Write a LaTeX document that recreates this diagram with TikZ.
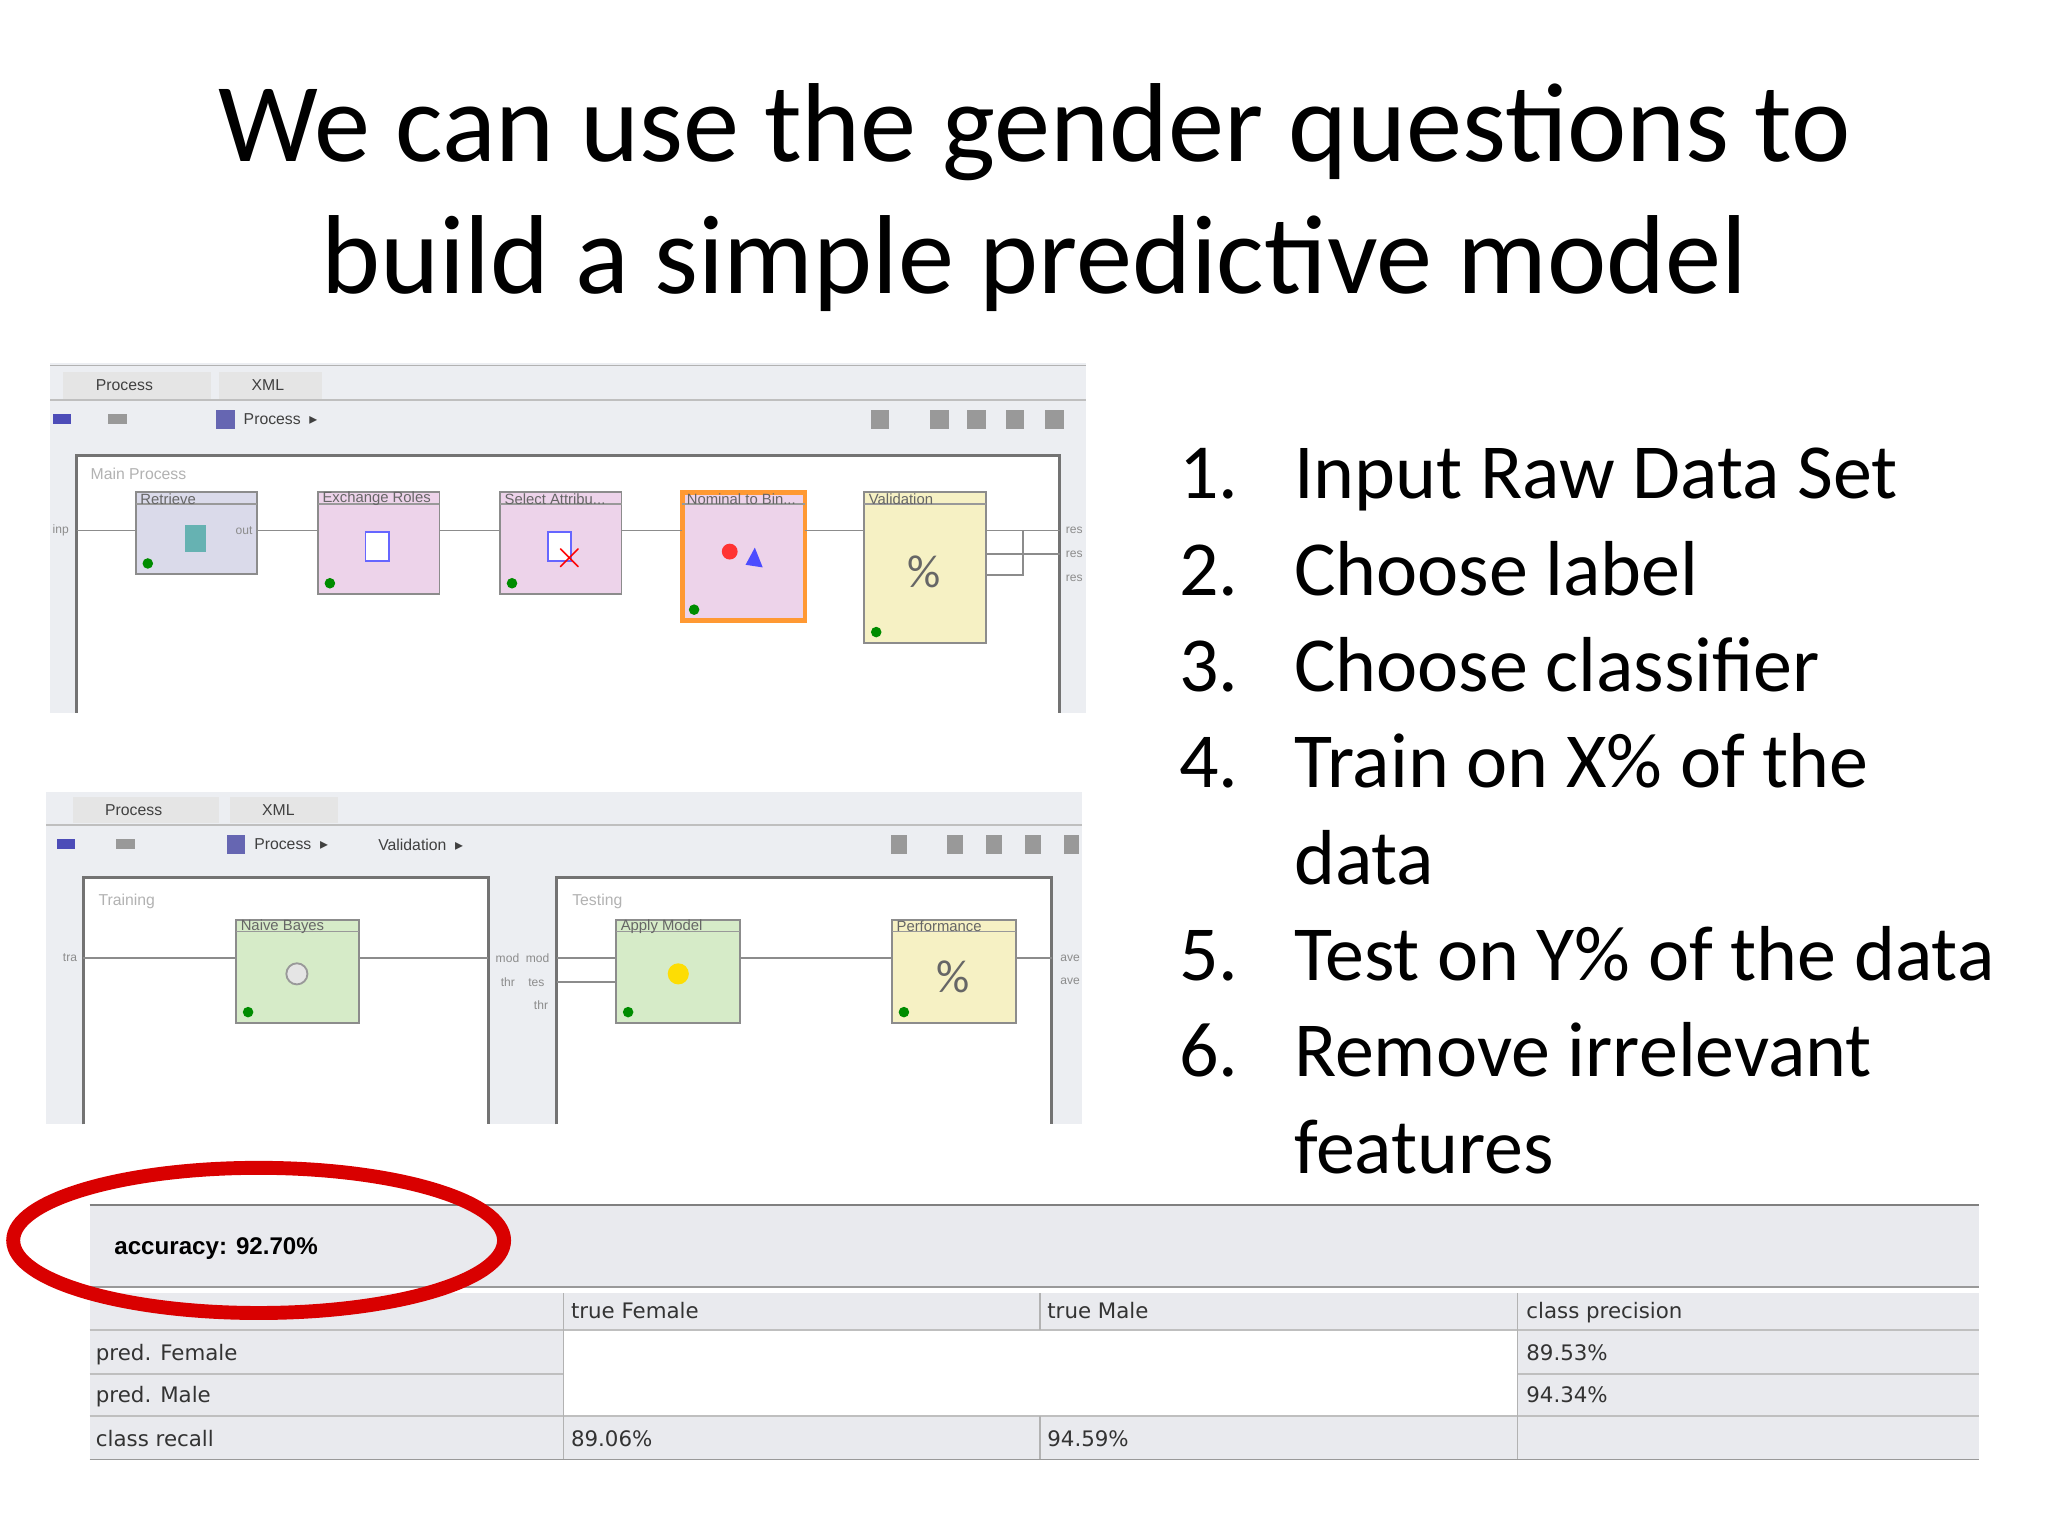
\documentclass[tikz,border=0pt]{standalone}
\usepackage{fontspec}
\setmainfont{Carlito}
\newfontfamily\uifont{Liberation Sans}
\newfontfamily\tabfont{DejaVu Sans}
\usetikzlibrary{fit}
\definecolor{pinkop}{HTML}{EDD3EA}
\definecolor{grayop}{HTML}{DADAEA}
\definecolor{yelop}{HTML}{F6F1C4}
\definecolor{greenop}{HTML}{D6EBC8}
\definecolor{uibar}{HTML}{ECEEF2}
\definecolor{tabgray}{HTML}{E9EAEE}
\newcommand{\tri}{{\tabfont ▸}}
\tikzset{
  op/.style={draw=black!45, line width=0.4pt, inner sep=0pt},
  ophead/.style={font=\uifont\fontsize{3.2}{4}\selectfont, text=black!60, anchor=west, inner sep=0.5pt},
  port/.style={font=\uifont\fontsize{2.6}{3}\selectfont, text=black!45, inner sep=0pt},
  frame/.style={draw=black!55, line width=0.6pt},
  wire/.style={draw=black!45, line width=0.4pt},
  listitem/.style={anchor=base west, font=\fontsize{16.8}{20}\selectfont, inner sep=0pt},
  tab/.style={font=\tabfont\fontsize{4.6}{5.5}\selectfont, anchor=west, inner sep=0pt, text=black!80},
  ui/.style={font=\uifont\fontsize{3.4}{4}\selectfont, anchor=west, inner sep=0pt, text=black!75},
  dot/.style={circle, fill=green!55!black, minimum size=0.08cm, inner sep=0pt}
}
\newcommand{\opbox}[7]{%
  \node[op, fill=#6, fit={(#2,#3)(#4,#5)}] (#1) {};
  \draw[black!40, line width=0.3pt] (#2,#3+9) -- (#4,#3+9);
  \node[ophead] (#1h) at (#2+1,#3+5) {#7};
  \node[dot] (#1d) at (#2+9,#5-8) {};
}
\begin{document}
\begin{tikzpicture}[x=0.01cm,y=-0.01cm]
\useasboundingbox[fill=white] (0,0) rectangle (1552,1164);
% title
\node[font=\fontsize{24.2}{28.5}\selectfont, align=center] (title) at (784,150)
  {We can use the gender questions to\\build a simple predictive model};
% list
\node[listitem] (n1) at (893,378) {1.}; \node[listitem] (t1) at (980,378) {Input Raw Data Set};
\node[listitem] (n2) at (893,451) {2.}; \node[listitem] (t2) at (980,451) {Choose label};
\node[listitem] (n3) at (893,524) {3.}; \node[listitem] (t3) at (980,524) {Choose classifier};
\node[listitem] (n4) at (893,597) {4.}; \node[listitem] (t4) at (980,597) {Train on X\% of the};
\node[listitem] (t4b) at (980,670) {data};
\node[listitem] (n5) at (893,743) {5.}; \node[listitem] (t5) at (980,743) {Test on Y\% of the data};
\node[listitem] (n6) at (893,816) {6.}; \node[listitem] (t6) at (980,816) {Remove irrelevant};
\node[listitem] (t6b) at (980,889) {features};

% ===== top screenshot =====
\fill[uibar] (38,275) rectangle (823,540);
\draw[black!30] (38,277) -- (823,277);
\fill[white!90!black] (48,282) rectangle (160,302); \fill[white!90!black] (166,282) rectangle (244,302);
\node[ui] (tp1) at (72,292) {Process};
\node[ui] (tp2) at (190,292) {XML};
\draw[black!25] (38,303) -- (823,303);
\node[ui] (tp3) at (184,318) {Process \ \tri};
\fill[blue!60!black!70] (40,314) rectangle (54,321); \fill[black!40] (82,314) rectangle (96,321);
\fill[blue!50!black!60] (164,311) rectangle (178,325);
\foreach \xx in {660,705,733,762,792}{\fill[black!40] (\xx,311) rectangle (\xx+14,325);}
\fill[white] (58,345) rectangle (803,540);
\draw[frame] (58,540) -- (58,345) -- (803,345) -- (803,540);
\node[ui, text=black!30] (mp) at (68,359) {Main Process};
\node[port] (inp) at (46,402) {inp};
\opbox{retr}{103}{373}{195}{435}{grayop}{Retrieve}
\opbox{exch}{241}{373}{333}{450}{pinkop}{Exchange Roles}
\opbox{sela}{379}{373}{471}{450}{pinkop}{Select Attribu...}
\node[op, draw=orange!80, line width=1pt, fill=pinkop, fit={(517,373)(610,470)}] (nomb) {};
\draw[black!40, line width=0.3pt] (517,382) -- (610,382);
\node[ophead] (nombh) at (518,378) {Nominal to Bin...};
\node[dot] (nombd) at (526,462) {};
\opbox{vali}{655}{373}{747}{487}{yelop}{Validation}
% icons
\fill[teal!60] (140,398) rectangle (156,418);
\draw[blue!60,fill=white] (277,403) rectangle (295,425);
\draw[blue!60,fill=white] (415,403) rectangle (433,425); \node[text=red,font=\bfseries\fontsize{8}{8}\selectfont] (xm) at (432,423) {$\times$};
\fill[red!80] (553,418) circle (6); \fill[blue!70] (565,428) -- (572,415) -- (578,430) -- cycle;
\node[font=\fontsize{10}{10}\selectfont, text=black!60] (pct1) at (700,433) {\%};
% wires top
\draw[wire] (58,402) -- (103,402);
\draw[wire] (195,402) -- (241,402);
\draw[wire] (333,402) -- (379,402);
\draw[wire] (471,402) -- (517,402);
\draw[wire] (610,402) -- (655,402);
\draw[wire] (747,402) -- (775,402) -- (775,436) -- (747,436);
\draw[wire] (775,402) -- (803,402);
\draw[wire] (747,420) -- (803,420);
\foreach \yy/\tt in {402/res,420/res,438/res}{\node[port] at (814,\yy) {\tt};}
\node[port] (p1) at (185,402) {out};

% ===== bottom screenshot =====
\fill[uibar] (35,600) rectangle (820,852);
\fill[white!90!black] (55,604) rectangle (166,624); \fill[white!90!black] (174,604) rectangle (256,624);
\node[ui] (bp1) at (79,614) {Process};
\node[ui] (bp2) at (198,614) {XML};
\draw[black!25] (35,625) -- (820,625);
\fill[blue!60!black!70] (43,636) rectangle (57,643); \fill[black!40] (88,636) rectangle (102,643);
\fill[blue!50!black!60] (172,633) rectangle (186,647);
\node[ui] (bp3) at (192,640) {Process \ \tri};
\node[ui] (bp4) at (286,640) {Validation \ \tri};
\foreach \xx in {675,718,747,777,806}{\fill[black!40] (\xx,633) rectangle (\xx+12,647);}
\fill[white] (63,665) rectangle (370,852);
\fill[white] (422,665) rectangle (797,852);
\draw[frame] (63,852) -- (63,665) -- (370,665) -- (370,852);
\draw[frame] (422,852) -- (422,665) -- (797,665) -- (797,852);
\node[ui, text=black!30] (trn) at (74,683) {Training};
\node[ui, text=black!30] (tst) at (433,683) {Testing};
\opbox{nb}{179}{697}{272}{775}{greenop}{Naive Bayes}
\opbox{am}{467}{697}{561}{775}{greenop}{Apply Model}
\opbox{perf}{676}{697}{770}{775}{yelop}{Performance}
\fill[yellow!80!orange] (514,738) circle (8);
\draw[black!40, fill=black!10] (225,738) circle (8);
\node[font=\fontsize{10}{10}\selectfont, text=black!60] (pct2) at (722,740) {\%};
\draw[wire] (63,726) -- (179,726);
\draw[wire] (272,726) -- (370,726);
\draw[wire] (422,726) -- (467,726);
\draw[wire] (422,744) -- (467,744);
\draw[wire] (561,726) -- (676,726);
\draw[wire] (770,726) -- (797,726);
\node[port] (tra) at (53,726) {tra};
\node[port] (mm) at (396,726) {mod \ mod};
\node[port] (tt) at (396,744) {thr \ \ \ tes};
\node[port] (th) at (410,762) {thr};
\node[port] at (811,726) {ave}; \node[port] at (811,744) {ave};

% ===== table =====
\fill[tabgray] (68,913) rectangle (1500,975);
\draw[black!50] (68,913) -- (1500,913);
\draw[black!40] (68,975) -- (1500,975);
\node[tab, font=\uifont\bfseries\fontsize{5.2}{6}\selectfont, text=black] (acc) at (86,946) {accuracy: 92.70\%};
\fill[tabgray] (68,980) rectangle (1500,1106);
\fill[white] (427,1008) rectangle (1150,1073);
\draw[black!25] (68,1008) -- (1500,1008);
\draw[black!25] (68,1041) -- (427,1041); \draw[black!25] (1150,1041) -- (1500,1041);
\draw[black!25] (68,1073) -- (1500,1073);
\draw[black!40] (68,1106) -- (1500,1106);
\foreach \xx in {427,788,1150}{\draw[black!30] (\xx,980) -- (\xx,1008); \draw[black!30] (\xx,1073) -- (\xx,1106);}
\draw[black!30] (427,1008) -- (427,1073); \draw[black!30] (1150,1008) -- (1150,1073);
\node[tab, anchor=base west] (h1) at (432,999) {true Female};
\node[tab, anchor=base west] (h2) at (793,999) {true Male};
\node[tab, anchor=base west] (h3) at (1156,999) {class precision};
\node[tab, anchor=base west] (r1) at (72,1031) {pred. Female};
\node[tab, anchor=base west] (r2) at (72,1063) {pred. Male};
\node[tab, anchor=base west] (r3) at (72,1096) {class recall};
\node[tab, anchor=base west] (v1) at (1156,1031) {89.53\%};
\node[tab, anchor=base west] (v2) at (1156,1063) {94.34\%};
\node[tab, anchor=base west] (v3) at (432,1096) {89.06\%};
\node[tab, anchor=base west] (v4) at (793,1096) {94.59\%};
% red ellipse
\draw[red!85!black, line width=3pt] (196,940) ellipse [x radius=186, y radius=55];
\end{tikzpicture}
\end{document}
